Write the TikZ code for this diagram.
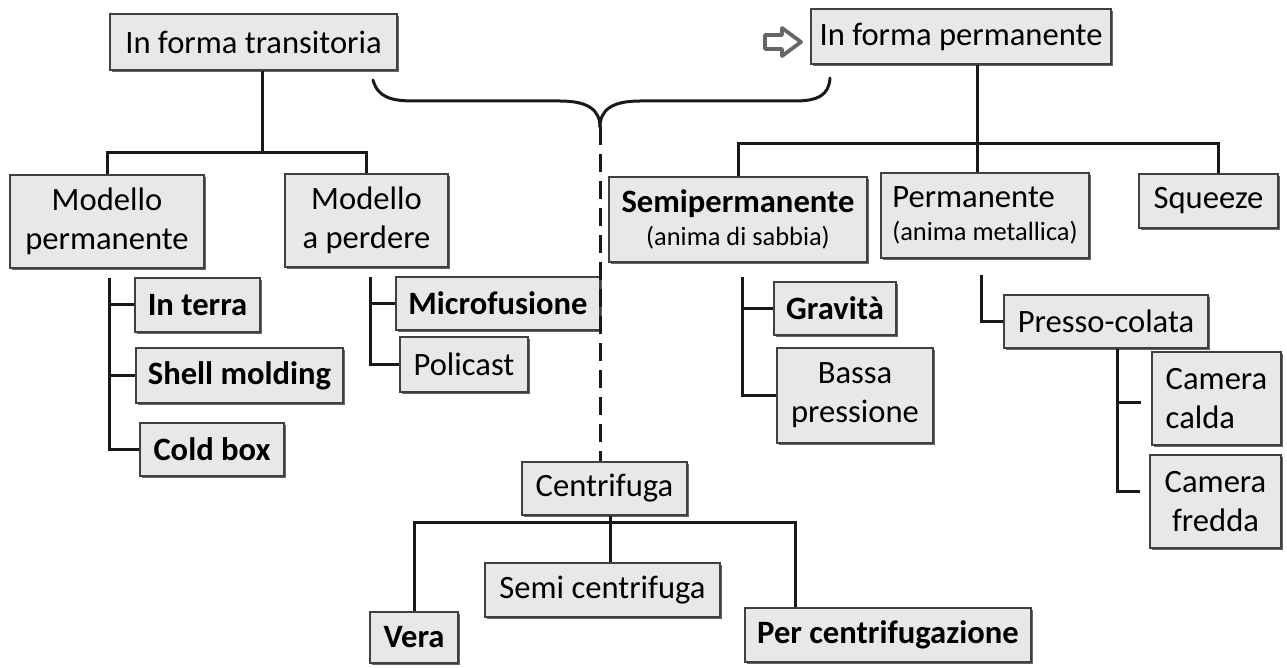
\documentclass[tikz,border=0pt]{standalone}
\usepackage{fontspec}
\setmainfont{Carlito}
\usetikzlibrary{shadows,calc}
\newcommand\fs{\fontsize{16.3}{19.5}\selectfont}
\newcommand\fsm{\fontsize{13.2}{15}\selectfont}
\tikzset{
  box/.style={draw=black!75, line width=0.8pt, fill=black!9, inner sep=0pt, align=center, font=\fs,
    drop shadow={shadow xshift=1.2pt, shadow yshift=-1.2pt, fill=black!60, opacity=1}},
  conn/.style={line width=1.5pt, black!90},
  bconn/.style={line width=1.5pt, black!90, line cap=round},
  dconn/.style={line width=1.5pt, black!90, dash pattern=on 9pt off 4.5pt},
}
\begin{document}
\begin{tikzpicture}[x=0.5pt,y=-0.5pt]
\useasboundingbox (0,0) rectangle (1287,668);

% boxes
\node[box, minimum width=143.5pt, minimum height=28pt] (trans) at (253.5,42) {In forma transitoria};
\node[box, minimum width=150pt, minimum height=27.5pt] (perm) at (961,36.5) {In forma permanente};
\node[box, minimum width=97pt, minimum height=46.5pt] (modperm) at (107,221.5) {Modello\\permanente};
\node[box, minimum width=81.5pt, minimum height=46.5pt] (modperd) at (366.5,220.5) {Modello\\a perdere};
\node[box, minimum width=62.5pt, minimum height=27pt, font=\fs\bfseries] (interra) at (197.5,305) {In terra};
\node[box, minimum width=103.5pt, minimum height=27.5pt, font=\fs\bfseries] (shell) at (239.5,375.5) {Shell molding};
\node[box, minimum width=72pt, minimum height=26.5pt, font=\fs\bfseries] (cold) at (212,449.5) {Cold box};
\node[box, minimum width=102pt, minimum height=26.5pt, font=\fs\bfseries] (micro) at (498,303.5) {Microfusione};
\node[box, minimum width=64pt, minimum height=27.5pt] (poli) at (464,364.5) {Policast};
\node[box, minimum width=129pt, minimum height=42.5pt] (semi) at (738,219.5) {\textbf{Semipermanente}\\[-3pt]{\fsm(anima di sabbia)}};
\node[box, minimum width=104pt, minimum height=42.5pt, align=left] (permb) at (985,215.5) {Permanente\\[-3pt]{\fsm(anima metallica)}};
\node[box, minimum width=69.5pt, minimum height=27pt] (squeeze) at (1208.5,201) {Squeeze};
\node[box, minimum width=61pt, minimum height=26.5pt, font=\fs\bfseries] (grav) at (835,308.5) {Gravità};
\node[box, minimum width=78pt, minimum height=47.5pt] (bassa) at (855,395.5) {Bassa\\pressione};
\node[box, minimum width=102pt, minimum height=26.5pt] (presso) at (1106,321.5) {Presso-colata};
\node[box, minimum width=64.5pt, minimum height=46.5pt, align=left] (calda) at (1216.5,398.5) {Camera\\calda};
\node[box, minimum width=65.5pt, minimum height=46.5pt] (fredda) at (1215.5,501.5) {Camera\\fredda};
\node[box, minimum width=82.5pt, minimum height=26.5pt] (centr) at (604.5,488.5) {Centrifuga};
\node[box, minimum width=117.5pt, minimum height=27pt] (semic) at (602.5,590) {Semi centrifuga};
\node[box, minimum width=44pt, minimum height=25.5pt, font=\fs\bfseries] (vera) at (414,637.5) {Vera};
\node[box, minimum width=143pt, minimum height=27pt, font=\fs\bfseries] (percen) at (888,635) {Per centrifugazione};

% left tree
\coordinate (j1) at (262,153);
\draw[conn] (trans.south -| j1) -- (j1);
\draw[conn] (modperm.north) |- (modperd.north |- j1) -- (modperd.north);
\coordinate (mp) at (109,278);
\draw[conn] (mp) |- (cold.west);
\draw[conn] (mp |- interra.west) -- (interra.west);
\draw[conn] (mp |- shell.west) -- (shell.west);
\coordinate (mpd) at (370,277);
\draw[conn] (mpd) |- (poli.west);
\draw[conn] (mpd |- micro.west) -- (micro.west);

% right tree
\coordinate (j2) at (977,144);
\coordinate (sq) at (1218,144);
\draw[conn] (perm.south -| j2) -- (j2 |- permb.north);
\draw[conn] (semi.north) |- (sq) -- (sq |- squeeze.north);
\coordinate (s1) at (742,277);
\draw[conn] (s1) |- (bassa.west);
\draw[conn] (s1 |- grav.west) -- (grav.west);
\coordinate (p1) at (981,275);
\draw[conn] (p1) |- (presso.west);
\coordinate (p2) at (1117,348);
\coordinate (fe) at ([xshift=-4.5pt,yshift=4.75pt]fredda.west);
\coordinate (ce) at ([xshift=-5pt,yshift=-2.25pt]calda.west);
\draw[conn] (presso.south -| p2) |- (fe);
\draw[conn] (p2 |- ce) -- (ce);

% centrifuga tree
\coordinate (c1) at (610,523);
\coordinate (c2) at (795,523);
\draw[conn] (centr.south -| c1) -- (c1 |- semic.north);
\draw[conn] (vera.north) |- (c2) -- (c2 |- percen.north);

% brace
\coordinate (brL) at (373,80);
\coordinate (brR) at (830,78);
\coordinate (brT) at (600,127);
\draw[bconn] (brL) .. controls (378,98) and (392,101) .. (415,101) -- (560,101) .. controls (588,101) and (600,110) .. (brT);
\draw[bconn] (brT) .. controls (600,110) and (612,101) .. (640,101) -- (795,101) .. controls (818,101) and (829,95) .. (brR);
\draw[dconn] (brT) -- (brT |- centr.north);

% hollow arrow
\draw[black!60, line width=1.9pt, line join=round, fill=white] (765,35) -- (782,35) -- (782,28) -- (801,42) -- (782,56) -- (782,49) -- (765,49) -- cycle;
\end{tikzpicture}
\end{document}
